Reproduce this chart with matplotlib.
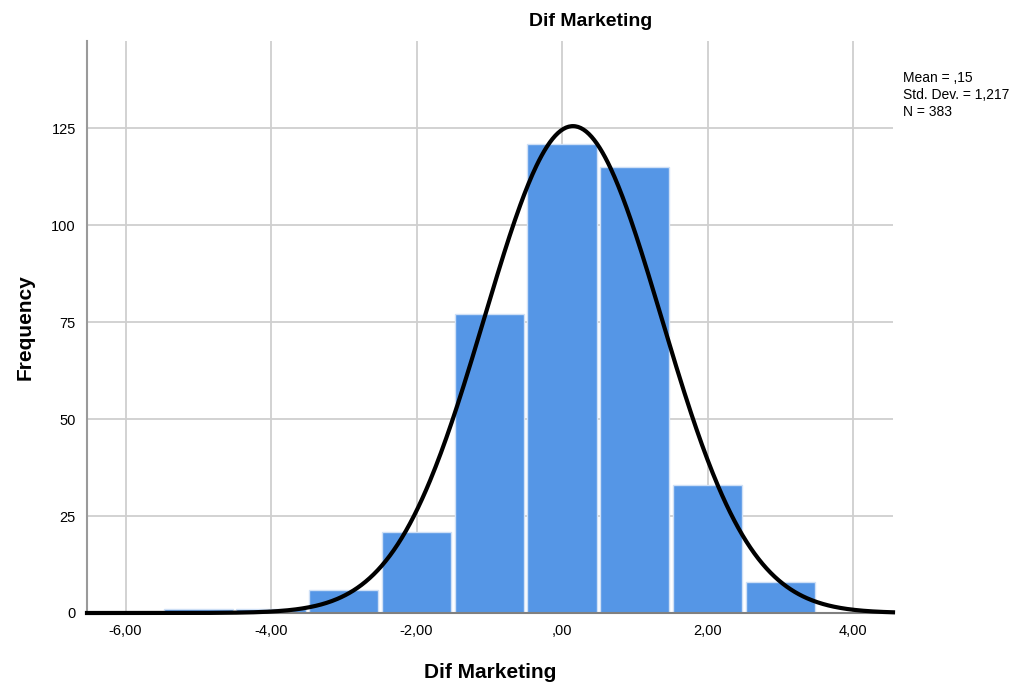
import numpy as np
import matplotlib
matplotlib.use("Agg")
import matplotlib.pyplot as plt

plt.rcParams['font.family'] = ['Liberation Sans', 'DejaVu Sans']

bin_centers = [-5, -4, -3, -2, -1, 0, 1, 2, 3]
counts = [1, 1, 6, 21, 77, 121, 115, 33, 8]
mean_val = 0.15
std_val = 1.217
n_val = 383
xticks = [-6, -4, -2, 0, 2, 4]
xticklabels = ['-6,00', '-4,00', '-2,00', ',00', '2,00', '4,00']
yticks = [0, 25, 50, 75, 100, 125]

fig = plt.figure(figsize=(10.26, 6.86), dpi=100)
ax = fig.add_axes([87/1026, 73/686, (893-87)/1026, (613-41)/686])

ax.set_xlim(-6.53, 4.55)
ax.set_ylim(0, 147.5)
ax.set_xticks(xticks)
ax.set_xticklabels(xticklabels)
ax.set_yticks(yticks)
ax.grid(True, color='#cfcfcf', linewidth=1.3)
ax.set_axisbelow(True)

ax.bar(bin_centers, counts, width=0.95, color='#5596e6', edgecolor='#cfe0f6', linewidth=1.0, zorder=2)

xs = np.linspace(-6.53, 4.55, 600)
ys = n_val * 1.0 / (std_val * np.sqrt(2 * np.pi)) * np.exp(-0.5 * ((xs - mean_val) / std_val) ** 2)
ax.plot(xs, ys, color='black', linewidth=3, zorder=3, clip_on=False)

for s in ['top', 'right']:
    ax.spines[s].set_visible(False)
ax.spines['left'].set_color('#9a9a9a')
ax.spines['left'].set_linewidth(1.5)
ax.spines['bottom'].set_color('#808080')
ax.spines['bottom'].set_linewidth(1.5)
ax.tick_params(length=0, labelsize=10.5, pad=8)

ax.set_xlabel('Dif Marketing', fontsize=15, fontweight='bold', labelpad=18)
ax.set_ylabel('Frequency', fontsize=15, fontweight='bold', labelpad=12)
fig.text(591/1026, 1 - 22/686, 'Dif Marketing', fontsize=14, fontweight='bold', ha='center', va='center')

fig.text(903/1026, 1 - 71/686, 'Mean = ,15\nStd. Dev. = 1,217\nN = 383', fontsize=10,
         ha='left', va='top', linespacing=1.25)

fig.savefig('out.png', dpi=100)
